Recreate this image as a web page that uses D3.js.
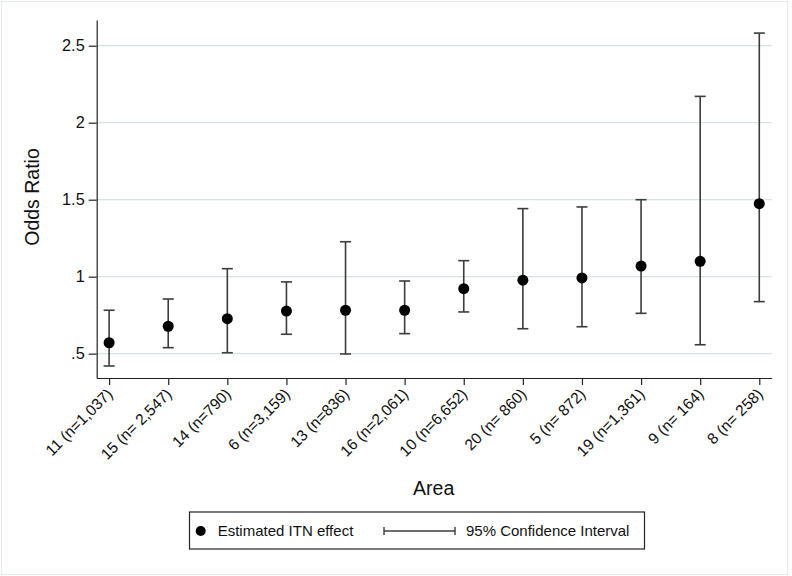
<!DOCTYPE html>
<html><head><meta charset="utf-8">
<script src="https://cdn.jsdelivr.net/npm/d3@7"></script>
<style>body{margin:0;background:#fff}svg{display:block}text{font-family:"Liberation Sans",Arial,sans-serif}</style>
</head><body><svg id="c" width="792" height="576"></svg>
<script>
const categories = ["11 (n=1,037)","15 (n= 2,547)","14 (n=790)","6 (n=3,159)","13 (n=836)","16 (n=2,061)","10 (n=6,652)","20 (n= 860)","5 (n= 872)","19 (n=1,361)","9 (n= 164)","8 (n= 258)"];
const estimate = [0.571,0.678,0.727,0.777,0.782,0.782,0.922,0.977,0.992,1.069,1.100,1.474];
const lower    = [0.420,0.539,0.506,0.626,0.498,0.630,0.771,0.662,0.675,0.762,0.558,0.838];
const upper    = [0.782,0.855,1.052,0.966,1.227,0.972,1.104,1.442,1.453,1.500,2.171,2.582];
const yTicks = [0.5,1,1.5,2,2.5];
const yTickLabels = [".5","1","1.5","2","2.5"];
const legendLabels = ["Estimated ITN effect","95% Confidence Interval"];

const svg = d3.select("#c");
const L=96.7, R=771.7, T=20, B=378;
svg.append("rect").attr("x",1.5).attr("y",1.5).attr("width",786).attr("height",573).attr("fill","none").attr("stroke","#e4eaec");

const x = d3.scalePoint().domain(categories).range([L,R]).padding(0.21);
const y = d3.scaleLinear().domain([0.342,2.667]).range([B,T]);

// gridlines
svg.append("g").selectAll("line").data(yTicks).join("line")
  .attr("x1",L).attr("x2",R).attr("y1",d=>y(d)).attr("y2",d=>y(d))
  .attr("stroke","#d8e2e5").attr("stroke-width",1.3);

// y axis
const ya = svg.append("g").attr("transform",`translate(${L},0)`)
  .call(d3.axisLeft(y).tickValues(yTicks).tickFormat((d,i)=>yTickLabels[i]).tickSize(8).tickPadding(4).tickSizeOuter(0));
ya.select(".domain").attr("stroke","#222").attr("stroke-width",1.2);
ya.selectAll(".tick line").attr("stroke","#222").attr("stroke-width",1.2);
ya.selectAll(".tick text").attr("font-size","16.3px").attr("fill","#111");

// x axis
const xa = svg.append("g").attr("transform",`translate(0,${B})`)
  .call(d3.axisBottom(x).tickSize(7).tickSizeOuter(0));
xa.select(".domain").attr("stroke","#222").attr("stroke-width",1.2);
xa.selectAll(".tick line").attr("stroke","#222").attr("stroke-width",1.2);
xa.selectAll(".tick text").attr("font-size","15.5px").attr("fill","#111")
  .attr("text-anchor","end").attr("dy",null).attr("y",0)
  .attr("transform","translate(4,17) rotate(-45)");

// error bars
const eb = svg.append("g").attr("stroke","#3c3c3c").attr("stroke-width",1.6);
categories.forEach((c,i)=>{
  const cx=x(c);
  eb.append("line").attr("x1",cx).attr("x2",cx).attr("y1",y(lower[i])).attr("y2",y(upper[i]));
  eb.append("line").attr("x1",cx-5.5).attr("x2",cx+5.5).attr("y1",y(lower[i])).attr("y2",y(lower[i]));
  eb.append("line").attr("x1",cx-5.5).attr("x2",cx+5.5).attr("y1",y(upper[i])).attr("y2",y(upper[i]));
});
svg.append("g").selectAll("circle").data(categories).join("circle")
  .attr("cx",d=>x(d)).attr("cy",(d,i)=>y(estimate[i])).attr("r",5.5).attr("fill","#000");

// axis titles
svg.append("text").attr("x",433.7).attr("y",495).attr("text-anchor","middle").attr("font-size","19.5px").attr("fill","#111").text("Area");
svg.append("text").attr("transform","translate(39,197) rotate(-90)").attr("text-anchor","middle").attr("font-size","19.5px").attr("fill","#111").text("Odds Ratio");

// legend
const lg = svg.append("g");
lg.append("rect").attr("x",189.5).attr("y",512).attr("width",455).attr("height",37).attr("fill","#fff").attr("stroke","#222").attr("stroke-width",1.2);
lg.append("circle").attr("cx",200.7).attr("cy",531).attr("r",5).attr("fill","#000");
lg.append("text").attr("x",217.7).attr("y",536.3).attr("font-size","15px").attr("fill","#111").text(legendLabels[0]);
const lgE = lg.append("g").attr("stroke","#3c3c3c").attr("stroke-width",1.4);
lgE.append("line").attr("x1",384).attr("x2",455).attr("y1",531).attr("y2",531);
lgE.append("line").attr("x1",384).attr("x2",384).attr("y1",527).attr("y2",535);
lgE.append("line").attr("x1",455).attr("x2",455).attr("y1",527).attr("y2",535);
lg.append("text").attr("x",466).attr("y",536.3).attr("font-size","15px").attr("fill","#111").text(legendLabels[1]);
</script></body></html>
